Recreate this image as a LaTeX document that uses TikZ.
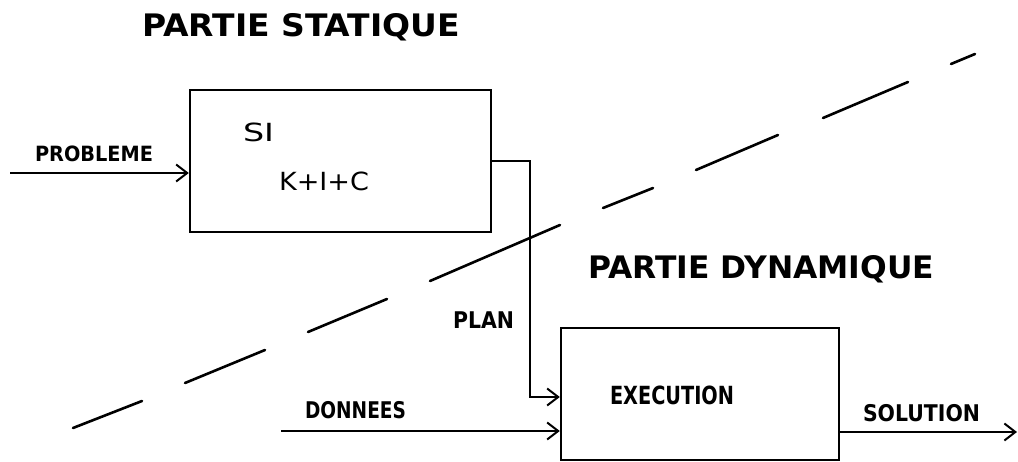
\documentclass[tikz,border=0pt]{standalone}
\usepackage{fontspec}
\setmainfont{Liberation Sans}
\newfontfamily\lblfont{DejaVu Sans}
\usepackage{graphicx}
\usetikzlibrary{arrows.meta}
\newcommand{\lbl}[3]{\resizebox{#1pt}{\height}{\fontsize{#2}{#2}\selectfont\lblfont\bfseries #3}}
\newcommand{\rlbl}[3]{\resizebox{#1pt}{\height}{\fontsize{#2}{#2}\selectfont\lblfont #3}}
\newcommand{\hlbl}[3]{\resizebox{#1pt}{\height}{\fontsize{#2}{#2}\selectfont\lblfont\bfseries #3}}
\begin{document}
\begin{tikzpicture}[x=1pt,y=-1pt,
  blockbox/.style={draw,line width=2.4pt,minimum width=#1,inner sep=0pt},
  txt/.style={anchor=base west,inner sep=0pt,outer sep=0pt},
  arr/.style={line width=2.4pt,-{Straight Barb[length=11pt,width=17pt,line width=2pt]}},
  cut/.style={line width=2.6pt,line cap=round}]
\useasboundingbox (0,0) rectangle (1018,462);
% boxes
\node[blockbox=301pt,minimum height=142pt] (box1) at (340.5,161) {};
\node[blockbox=278pt,minimum height=132pt] (box2) at (700,394) {};
% headings
\node[txt] (stat) at (142,37) {\hlbl{318}{31}{PARTIE STATIQUE}};
\node[txt] (dyn) at (588,279) {\hlbl{346}{31}{PARTIE DYNAMIQUE}};
% labels
\node[txt] (prob) at (35,162) {\lbl{118}{21}{PROBLEME}};
\node[txt] (si) at (243,142) {\rlbl{31}{25}{SI}};
\node[txt] (kic) at (279,191) {\rlbl{90}{25}{K+I+C}};
\node[txt] (plan) at (453,329) {\lbl{61}{23}{PLAN}};
\node[txt] (don) at (305,418) {\lbl{101}{23}{DONNEES}};
\node[txt] (exec) at (610,404) {\lbl{124}{25}{EXECUTION}};
\node[txt] (sol) at (863,421) {\lbl{117}{23}{SOLUTION}};
% connectors
\coordinate (pin) at (10,173);
\coordinate (pl) at (530,397);
\coordinate (din) at (281,431);
\coordinate (sout) at (1017,432);
\draw[arr] (pin) -- (pin -| box1.west);
\draw[arr] (box1.east) -| (pl) -- (pl -| box2.west);
\draw[arr] (din) -- (din -| box2.west);
\draw[arr] (sout -| box2.east) -- (sout);
% dividing dashed line
\draw[cut] (73,428) -- (142,401);
\draw[cut] (185,383) -- (265,350);
\draw[cut] (308,332) -- (387,299);
\draw[cut] (430,281) -- (560,225);
\draw[cut] (603,208) -- (653,188);
\draw[cut] (696,170) -- (778,135);
\draw[cut] (823,118) -- (908,82);
\draw[cut] (951,64) -- (975,54);
\end{tikzpicture}
\end{document}
